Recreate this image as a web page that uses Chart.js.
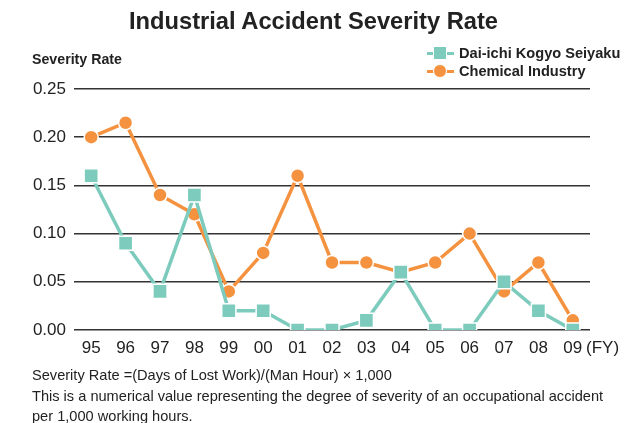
<!DOCTYPE html>
<html><head><meta charset="utf-8">
<script src="https://cdn.jsdelivr.net/npm/chart.js@4"></script>
<style>
html,body{margin:0;padding:0;background:#fff;}
body{width:627px;height:423px;position:relative;overflow:hidden;font-family:"Liberation Sans",Arial,sans-serif;color:#222;}
#wrap{position:absolute;left:0;top:0;width:627px;height:423px;}
.t{position:absolute;white-space:nowrap;}
#title{left:0;width:627px;text-align:center;top:8px;font-size:23.7px;font-weight:bold;}
#ylab{left:32px;top:51px;font-size:14.2px;font-weight:bold;}
#fy{left:586px;top:338px;font-size:17px;}
.foot{left:32px;font-size:14.6px;}
.leg{position:absolute;left:427px;height:18px;width:200px;font-size:14.6px;font-weight:bold;white-space:nowrap;}
.leg .ln{position:absolute;top:8px;height:3px;width:27px;left:0;}
.leg .mk{position:absolute;border:1.5px solid #fff;}
.leg .tx{position:absolute;left:32px;top:0;line-height:18px;white-space:nowrap;}
</style></head>
<body>
<div id="wrap"><canvas id="c" width="627" height="423"></canvas></div>
<div class="t" id="title">Industrial Accident Severity Rate</div>
<div class="t" id="ylab">Severity Rate</div>
<div class="leg" style="top:44px"><div class="ln" style="background:#7ccbbd"></div><div class="mk" style="left:6px;top:2px;width:12px;height:12px;background:#7ccbbd"></div><div class="tx">Dai-ichi Kogyo Seiyaku</div></div>
<div class="leg" style="top:62px"><div class="ln" style="background:#f5923f"></div><div class="mk" style="left:6px;top:2px;width:12px;height:12px;border-radius:50%;background:#f5923f"></div><div class="tx">Chemical Industry</div></div>
<div class="t" id="fy">(FY)</div>
<div class="t foot" style="top:367px">Severity Rate =(Days of Lost Work)/(Man Hour) × 1,000</div>
<div class="t foot" style="top:388px">This is a numerical value representing the degree of severity of an occupational accident</div>
<div class="t foot" style="top:408px">per 1,000 working hours.</div>
<script>
const years = ["95","96","97","98","99","00","01","02","03","04","05","06","07","08","09"];
const daiichi = [0.16,0.09,0.04,0.14,0.02,0.02,0,0,0.01,0.06,0,0,0.05,0.02,0];
const chemical = [0.20,0.215,0.14,0.12,0.04,0.08,0.16,0.07,0.07,0.06,0.07,0.10,0.04,0.07,0.01];
const yTicks = [0,0.05,0.10,0.15,0.20,0.25];

new Chart(document.getElementById('c'), {
  type: 'line',
  data: {
    labels: years,
    datasets: [
      {label:'Dai-ichi Kogyo Seiyaku', data: daiichi, borderColor:'#7ccbbd', backgroundColor:'#7ccbbd',
       borderWidth:3.5, pointStyle:'rect', pointRadius:10, pointBorderColor:'#fff', pointBorderWidth:1.5, tension:0},
      {label:'Chemical Industry', data: chemical, borderColor:'#f5923f', backgroundColor:'#f5923f',
       borderWidth:3.5, pointStyle:'circle', pointRadius:7, pointBorderColor:'#fff', pointBorderWidth:1.5, tension:0}
    ]
  },
  options: {
    responsive:false, animation:false, devicePixelRatio:1,
    layout:{padding:{left:0,top:89,right:37,bottom:0}},
    plugins:{legend:{display:false}, title:{display:false}, tooltip:{enabled:false}},
    scales:{
      x:{offset:true, grid:{display:false, drawTicks:false}, border:{display:false},
         ticks:{font:{family:'Liberation Sans', size:17}, color:'#222', padding:8, maxRotation:0, autoSkip:false},
         afterFit(s){ s.height = 93; }},
      y:{min:0,max:0.25, afterBuildTicks(s){ s.ticks = yTicks.map(v=>({value:v})); },
         grid:{color:'#333', lineWidth:1.5, drawTicks:false}, border:{display:false},
         ticks:{font:{family:'Liberation Sans', size:17}, color:'#222', padding:8, callback:v=>v.toFixed(2)},
         afterFit(s){ s.width = 74; }}
    }
  }
});
</script>
</body></html>
